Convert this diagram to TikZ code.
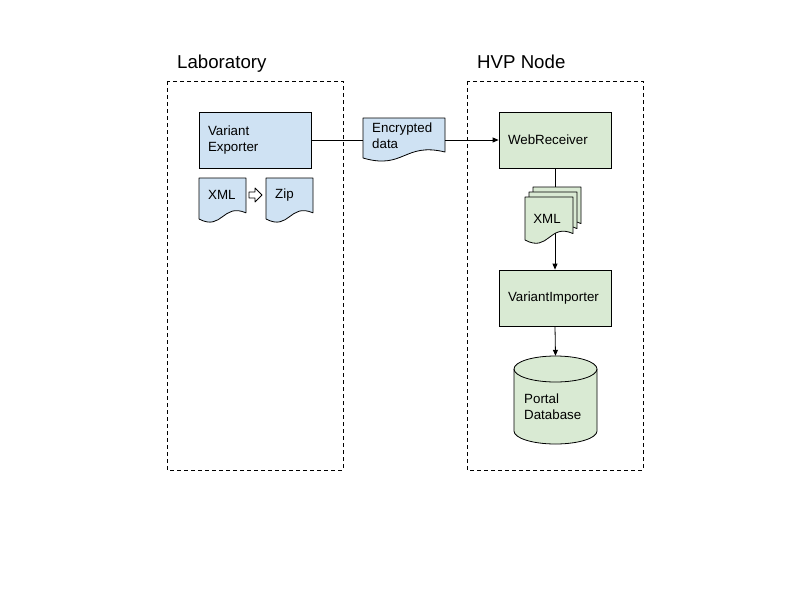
\documentclass[tikz,border=0pt]{standalone}
\usepackage{fontspec}
\setmainfont{Liberation Sans}
\usetikzlibrary{arrows.meta}
\definecolor{labblue}{HTML}{CFE2F3}
\definecolor{hvpgreen}{HTML}{D9EAD3}
\newcommand{\rsdoc}[5]{%
  \pgfmathsetmacro\rsw{#4-#2}%
  \pgfmathsetmacro\rsh{#5-#3}%
  \pgfmathsetmacro\rsxm{#2+0.5*\rsw}%
  \pgfmathsetmacro\rsyr{#5-0.15*\rsh}%
  \pgfmathsetmacro\rsca{#5-0.4*\rsh}%
  \pgfmathsetmacro\rscb{#5+0.3*\rsh}%
  \filldraw[fill=#1, line width=0.8pt, line join=round] (#2,#3) -- (#4,#3) -- (#4,\rsyr) .. controls (\rsxm,\rsca) and (\rsxm,\rscb) .. (#2,#5) -- cycle;}
\begin{document}
\begin{tikzpicture}[x=1pt,y=-1pt,
  every node/.style={font=\fontsize{13.33}{16}\selectfont},
  region/.style={draw, line width=0.8pt, dash pattern=on 4pt off 3pt},
  title/.style={font=\fontsize{18.67}{22}\selectfont, inner sep=0pt},
  box/.style={draw, line width=0.8pt, minimum height=56pt, text width=94pt, inner xsep=9pt, inner ysep=0pt, align=left},
  txt/.style={inner xsep=9pt, inner ysep=0pt, align=left},
  ghost/.style={inner sep=0pt},
  conn/.style={line width=0.8pt},
  arr/.style={conn, -{Triangle[length=6pt,width=5pt]}}]
\fill[white] (0,0) rectangle (800,600);
\useasboundingbox (0,0) rectangle (800,600);
% regions
\draw[region] (167,81) rectangle (343,470);
\draw[region] (467,81) rectangle (643,470);
\node[title, anchor=base west] (labt) at (177,68) {Laboratory};
\node[title, anchor=base west] (hvpt) at (477,68) {HVP Node};
% boxes
\node[box, fill=labblue] (ve) at (255,140) {Variant\\Exporter};
\node[box, fill=hvpgreen] (wr) at (555,140) {WebReceiver};
\node[box, fill=hvpgreen] (vi) at (555,298) {VariantImporter};
% encrypted data document
\rsdoc{labblue}{363}{118}{445}{158}
\node[ghost, minimum width=82pt, minimum height=40pt] (encbox) at (404,138) {};
\node[txt, anchor=west] (enctxt) at (363,136) {Encrypted\\data};
% lab documents
\rsdoc{labblue}{199}{178}{246}{219}
\node[txt, anchor=west] (xmla) at (199,195) {XML};
\rsdoc{labblue}{266}{178}{313}{219}
\node[txt, anchor=west] (zip) at (266,195) {Zip};
\filldraw[fill=white, line width=0.8pt, line join=round] (249,192) -- (255,192) -- (255,188) -- (262,195) -- (255,202) -- (255,198) -- (249,198) -- cycle;
% connectors
\draw[conn] (ve.east) -- (encbox.west |- ve.east);
\draw[arr] (encbox.east |- wr.west) -- (wr.west);
\draw[arr] (wr.south) -- (vi.north);
% stacked xml documents
\rsdoc{hvpgreen}{533}{187}{581}{230}
\rsdoc{hvpgreen}{529}{192}{577}{235}
\rsdoc{hvpgreen}{525}{197}{573}{240}
\node (xmlb) at (547,219) {XML};
% database
\node[ghost, minimum width=83pt, minimum height=88pt] (db) at (555.5,400) {};
\draw[arr] (vi.south) -- (db.north);
\filldraw[fill=hvpgreen, line width=0.8pt] (514,369) -- (514,431) arc[start angle=180, end angle=360, x radius=41.5pt, y radius=13pt] -- (597,369) arc[start angle=0, end angle=180, x radius=41.5pt, y radius=13pt] -- cycle;
\draw[line width=0.8pt] (514,369) arc[start angle=180, end angle=360, x radius=41.5pt, y radius=13pt];
\node[txt, anchor=west] (dbt) at (515,407) {Portal\\Database};
\end{tikzpicture}
\end{document}
